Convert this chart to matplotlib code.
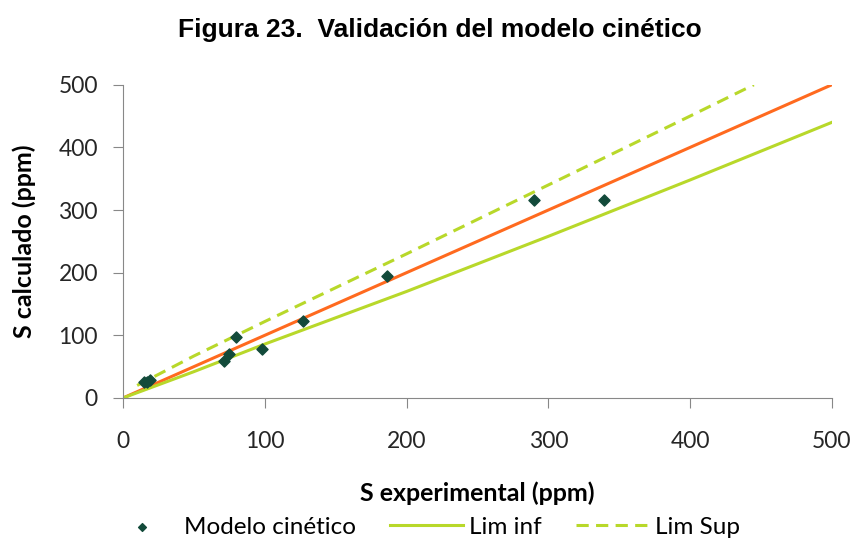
import matplotlib.pyplot as plt

# datos
s_exp = [15, 17, 19, 71, 75, 80, 98, 127, 186, 290, 339]
s_calc = [25, 26, 28, 59, 71, 97, 78, 123, 194, 316, 316]

ideal_x = [0, 500]
ideal_y = [0, 500]

inf_x = [0, 50, 100, 200, 300, 400, 500]
inf_y = [0, 42, 86, 170, 258, 348, 440]

sup_x = [10, 50, 100, 200, 300, 400, 445]
sup_y = [20, 67, 122, 230, 340, 450, 500]

plt.rcParams['font.family'] = ['Lato', 'DejaVu Sans']

fig = plt.figure(figsize=(8.54, 5.4), dpi=100)
ax = fig.add_axes([0.144, 0.263, 0.830, 0.580])

lime = '#b8d82a'
ax.plot(ideal_x, ideal_y, color='#ff6a1f', lw=2.2, zorder=2)
ax.plot(inf_x, inf_y, color=lime, lw=2.2, label='Lim inf', zorder=2)
ax.plot(sup_x, sup_y, color=lime, lw=2.2, ls=(0, (4, 2.4)), label='Lim Sup', zorder=2)
ax.scatter(s_exp, s_calc, marker='D', s=32, color='#124a3a', label='Modelo cinético', zorder=3)

ax.set_xlim(0, 500)
ax.set_ylim(0, 500)
ax.set_xticks(range(0, 501, 100))
ax.set_yticks(range(0, 501, 100))
ax.tick_params(labelsize=16.5, colors='#888888', labelcolor='#262626', length=7)
ax.tick_params(axis='x', pad=17)
ax.tick_params(axis='y', pad=11)
for side in ['top', 'right']:
    ax.spines[side].set_visible(False)
for side in ['left', 'bottom']:
    ax.spines[side].set_color('#888888')

ax.set_xlabel('S experimental (ppm)', fontsize=18, fontweight='bold', labelpad=21)
ax.set_ylabel('S calculado (ppm)', fontsize=18, fontweight='bold', labelpad=16)

fig.suptitle('Figura 23.  Validación del modelo cinético', x=0.515, y=0.944, va='center',
             fontsize=19, fontweight='bold', family='Liberation Sans')

h, l = ax.get_legend_handles_labels()
order = [2, 0, 1]
fig.legend([h[i] for i in order], [l[i] for i in order], loc='center',
           bbox_to_anchor=(0.495, 0.024), ncol=3, frameon=False, fontsize=17.5,
           handlelength=3.0, columnspacing=1.4, handletextpad=0.25, markerscale=0.7)

fig.savefig('out.png', dpi=100)
